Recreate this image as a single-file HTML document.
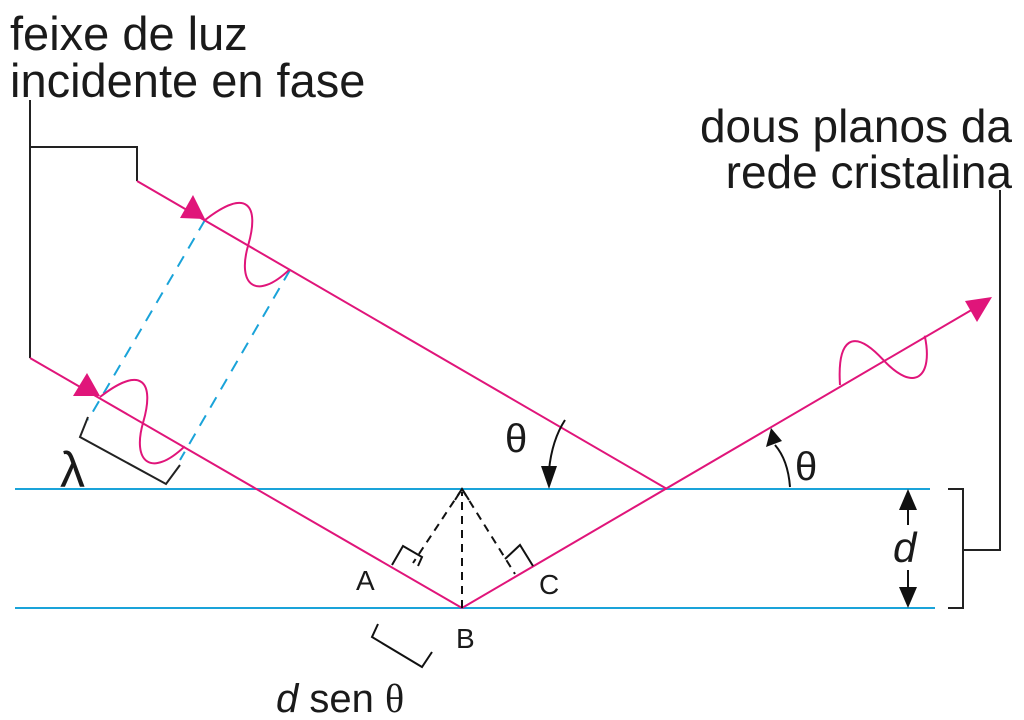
<!DOCTYPE html>
<html><head><meta charset="utf-8"><style>
body{margin:0;background:#fff;}
svg{display:block;}
text{font-family:"Liberation Sans",sans-serif;fill:#1a1a1a;}
</style></head><body>
<svg width="1024" height="720" viewBox="0 0 1024 720" xmlns="http://www.w3.org/2000/svg">
<text x="10" y="50" font-size="47">feixe de luz</text>
<text x="10" y="97" font-size="47">incidente en fase</text>
<text x="1012" y="142" font-size="46" text-anchor="end">dous planos da</text>
<text x="1012" y="188" font-size="46" text-anchor="end">rede cristalina</text>
<!-- brackets -->
<polyline points="30,100 30,358" fill="none" stroke="#222" stroke-width="2"/>
<polyline points="30,147 137,147 137,181" fill="none" stroke="#222" stroke-width="2"/>
<path d="M948,489 H963 V608 H948 M963,550 H1000 V190" fill="none" stroke="#222" stroke-width="2"/>
<!-- crystal planes -->
<line x1="15" y1="489" x2="930" y2="489" stroke="#1aa3d9" stroke-width="2"/>
<line x1="15" y1="608" x2="935" y2="608" stroke="#1aa3d9" stroke-width="2"/>
<!-- dashed blue -->
<line x1="205" y1="220" x2="88" y2="420" stroke="#1aa3d9" stroke-width="2" stroke-dasharray="12,9"/>
<line x1="290" y1="270" x2="180" y2="460" stroke="#1aa3d9" stroke-width="2" stroke-dasharray="12,9"/>
<!-- rays -->
<g stroke="#e0157a" stroke-width="2" fill="none">
<line x1="137" y1="181" x2="667" y2="489"/>
<line x1="30" y1="358" x2="462" y2="608"/>
<line x1="462" y1="608" x2="980" y2="305"/>
<g transform="translate(205,220) rotate(30.2)"><path d="M0,0 C20,-50 40,-40 50,0 C60,40 85,45 98,0"/></g>
<g transform="translate(100,397) rotate(30.2)"><path d="M0,0 C20,-50 40,-40 50,0 C60,40 85,45 98,0"/></g>
<g transform="translate(840,385) rotate(-30.2)"><path d="M0,0 C20,-40 40,-45 50,0 C60,45 85,40 98,0"/></g>
</g>
<g fill="#e0157a">
<path d="M205,219 L180,218 L193,195z"/>
<path d="M100,396 L73,396 L87,373z"/>
<path d="M992,297 L965,301 L977,322z"/>
</g>
<!-- lambda bracket -->
<polyline points="88,417 80,437 166,484 180,465" fill="none" stroke="#222" stroke-width="2"/>
<text x="60" y="487" font-size="50" font-family="Liberation Serif">λ</text>
<!-- dashed black -->
<g stroke="#111" stroke-width="2" stroke-dasharray="8,6" fill="none">
<line x1="462" y1="608" x2="462" y2="492"/>
<line x1="462" y1="489" x2="413" y2="563"/>
<line x1="462" y1="489" x2="515" y2="574"/>
</g>
<path d="M455,500 L462,489 L469,500" fill="none" stroke="#111" stroke-width="2"/>
<polyline points="392,565 403,546 422,557 418,566" fill="none" stroke="#111" stroke-width="2"/>
<polyline points="505,559 520,545 533,566" fill="none" stroke="#111" stroke-width="2"/>
<text x="356" y="590" font-size="28">A</text>
<text x="456" y="648" font-size="28">B</text>
<text x="539" y="594" font-size="28">C</text>
<polyline points="378,624 372,637 422,667 432,652" fill="none" stroke="#111" stroke-width="2"/>
<text x="276" y="712" font-size="40"><tspan font-style="italic">d</tspan> sen <tspan font-family="Liberation Serif">θ</tspan></text>
<!-- theta left -->
<text x="505" y="452" font-size="40" font-family="Liberation Serif">θ</text>
<path d="M565,420 Q552,440 549,470" fill="none" stroke="#111" stroke-width="2"/>
<path d="M541,466 L557,466 L549,489z" fill="#111"/>
<!-- theta right -->
<text x="795" y="480" font-size="40" font-family="Liberation Serif">θ</text>
<path d="M790,487 Q788,460 775,445" fill="none" stroke="#111" stroke-width="2"/>
<path d="M766,447 L782,441 L771,428z" fill="#111"/>
<!-- d dimension -->
<line x1="908" y1="508" x2="908" y2="525" stroke="#111" stroke-width="2"/>
<path d="M899,510 L917,510 L908,489z" fill="#111"/>
<line x1="908" y1="570" x2="908" y2="590" stroke="#111" stroke-width="2"/>
<path d="M899,587 L917,587 L908,608z" fill="#111"/>
<text x="893" y="562" font-size="42" font-style="italic">d</text>
</svg>
</body></html>
